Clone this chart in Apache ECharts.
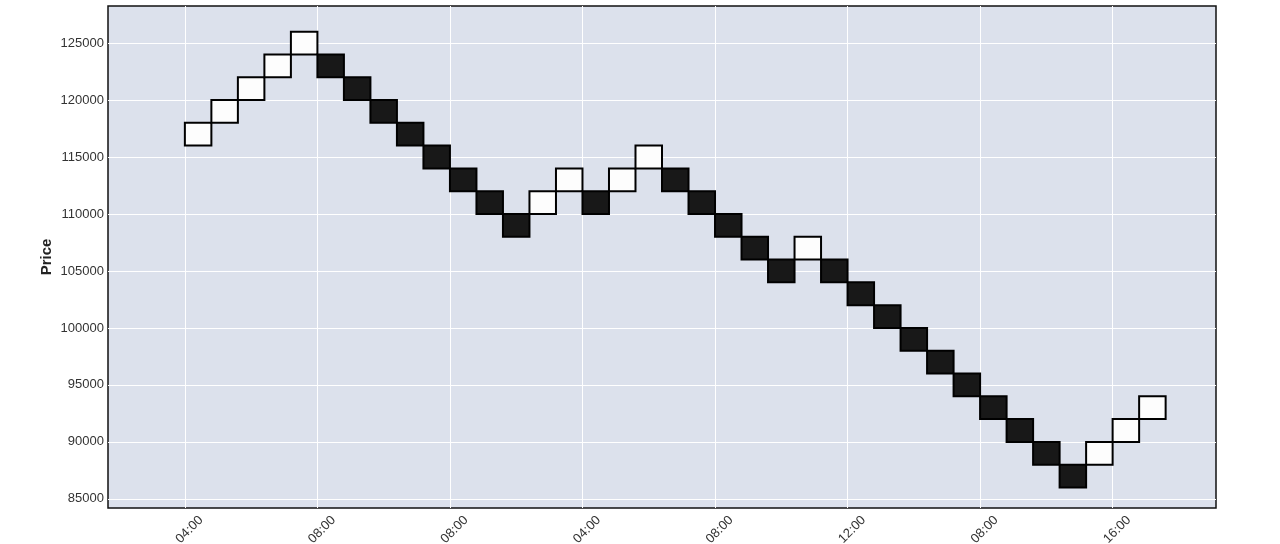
<!DOCTYPE html>
<html>
<head>
<meta charset="utf-8">
<script src="https://cdn.jsdelivr.net/npm/echarts@6/dist/echarts.min.js"></script>
<style>
    html, body { margin: 0; padding: 0; background: #fff; }
</style>
</head>
<body>
<div id="main" style="width: 1280px;height:544px;"></div>
<script type="text/javascript">
    // renko bricks, box size 2000
    var boxSize = 2000;
    var brickBottom = [116000, 118000, 120000, 122000, 124000,
        122000, 120000, 118000, 116000, 114000, 112000, 110000, 108000,
        110000, 112000, 110000, 112000, 114000,
        112000, 110000, 108000, 106000, 104000, 106000,
        104000, 102000, 100000, 98000, 96000, 94000, 92000, 90000, 88000, 86000,
        88000, 90000, 92000];
    var brickUp = [1, 1, 1, 1, 1,
        0, 0, 0, 0, 0, 0, 0, 0,
        1, 1, 0, 1, 1,
        0, 0, 0, 0, 0, 1,
        0, 0, 0, 0, 0, 0, 0, 0, 0, 0,
        1, 1, 1];
    var tickPos = [0, 5, 10, 15, 20, 25, 30, 35];
    var tickLabels = ['04:00', '08:00', '08:00', '04:00', '08:00', '12:00', '08:00', '16:00'];
    var priceTicks = [85000, 90000, 95000, 100000, 105000, 110000, 115000, 120000, 125000];

    var data = brickBottom.map(function (v, i) { return [i, v, brickUp[i]]; });

    var myChart = echarts.init(document.getElementById('main'));
    var option = {
        animation: false,
        textStyle: { fontFamily: 'Liberation Sans, Arial, sans-serif' },
        grid: {
            left: 108, right: 64, top: 6, bottom: 36,
            outerBoundsMode: 'none',
            show: true,
            backgroundColor: '#dce1ec',
            borderColor: '#111',
            borderWidth: 1.5
        },
        xAxis: {
            type: 'value',
            min: -2.9,
            max: 38.9,
            axisLine: { show: false },
            axisTick: { show: false, customValues: tickPos },
            splitLine: { show: true, lineStyle: { color: '#ffffff', width: 1 } },
            axisLabel: {
                customValues: tickPos,
                rotate: 45,
                align: 'center',
                verticalAlign: 'top',
                margin: 17,
                fontSize: 13,
                color: '#333',
                formatter: function (v) {
                    var k = tickPos.indexOf(Math.round(v));
                    return k < 0 ? '' : tickLabels[k];
                }
            }
        },
        yAxis: {
            type: 'value',
            min: 84200,
            max: 128250,
            name: 'Price',
            nameLocation: 'middle',
            nameGap: 54,
            nameMoveOverlap: false,
            nameTextStyle: { fontSize: 15, fontWeight: 'bold', color: '#222' },
            axisLine: { show: false },
            axisTick: { show: false, customValues: priceTicks },
            splitLine: { show: true, lineStyle: { color: '#ffffff', width: 1 } },
            axisLabel: {
                customValues: priceTicks,
                fontSize: 13,
                color: '#333',
                margin: 4,
                formatter: function (v) { return String(v); }
            }
        },
        series: [{
            type: 'custom',
            encode: { x: 0, y: 1 },
            data: data,
            renderItem: function (params, api) {
                var i = api.value(0), lo = api.value(1), up = api.value(2);
                var p0 = api.coord([i, lo + boxSize]);
                var p1 = api.coord([i + 1, lo]);
                return {
                    type: 'rect',
                    shape: { x: p0[0], y: p0[1], width: p1[0] - p0[0], height: p1[1] - p0[1] },
                    style: { fill: up ? '#fdfdfd' : '#181818', stroke: '#000', lineWidth: 2 }
                };
            }
        }]
    };
    myChart.setOption(option);
</script>
</body>
</html>
